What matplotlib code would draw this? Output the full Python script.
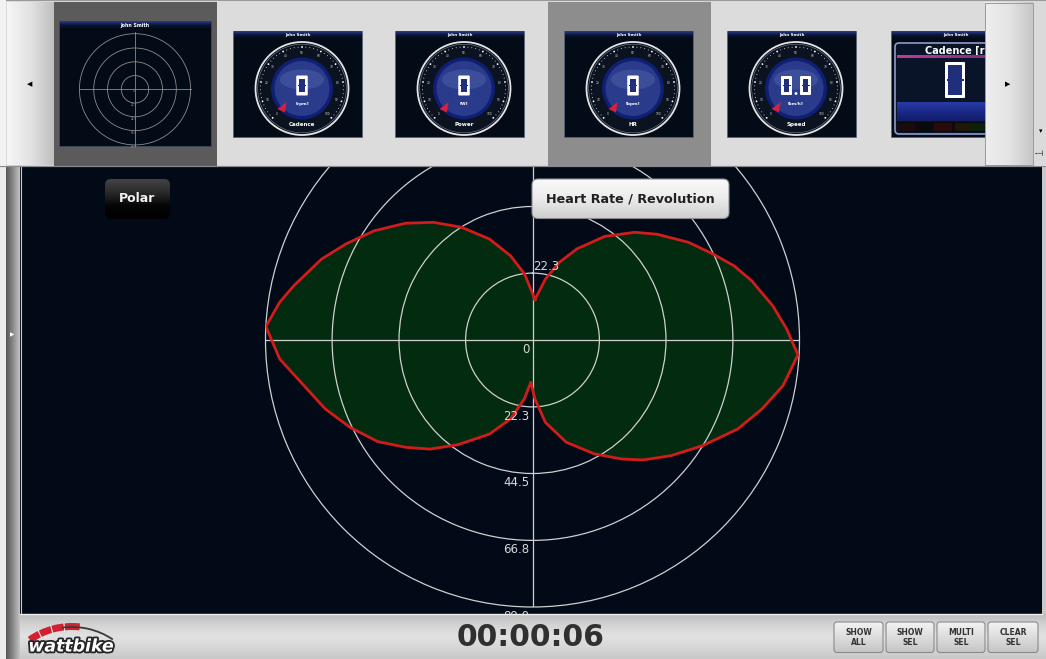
import numpy as np
import matplotlib
matplotlib.use("Agg")
import matplotlib.pyplot as plt
import matplotlib.colors as mcolors
import matplotlib.patheffects as pe
from matplotlib.patches import Rectangle, FancyBboxPatch, Circle, Polygon, Wedge, Arc, Ellipse

plt.rcParams['font.family'] = ['DejaVu Sans']

# ---------------- data ----------------
pedal_angle_deg = [3.5, 12.0, 19.1, 26.0, 34.9, 43.5, 49.7, 58.0, 64.6, 69.8, 74.9, 81.9, 87.5,
                   93.2, 100.3, 106.7, 113.4, 121.8, 129.8, 137.3, 143.0, 151.5, 161.7, 171.1,
                   177.6, 182.4,
                   187.8, 195.6, 204.6, 215.4, 223.2, 229.8, 236.7, 244.5, 251.6, 259.7, 265.7,
                   272.9, 278.5, 282.8, 291.0, 297.3, 304.6, 312.6, 320.0, 327.8, 336.9, 345.4,
                   353.1]
heart_rate_rev = [13.5, 20.8, 27.4, 33.8, 42.1, 49.5, 54.5, 61.4, 66.7, 71.6, 75.7, 80.9, 84.8,
                  88.6, 84.9, 79.9, 74.6, 66.8, 60.2, 54.4, 49.7, 43.2, 35.9, 27.8,
                  19.7, 14.1,
                  19.8, 27.3, 34.5, 42.8, 49.9, 55.4, 61.7, 67.5, 72.8, 78.5, 84.5,
                  89.0, 85.2, 81.6, 75.3, 69.9, 64.1, 57.5, 51.2, 44.4, 36.6, 29.0,
                  22.2]
radial_ticks = [0, 22.3, 44.5, 66.8, 89.0]
radial_max = 89.0

gauge_titles = ["Cadence", "Power", "HR", "Speed"]
gauge_units = ["[rpm]", "[W]", "[bpm]", "[km/h]"]
gauge_values = ["0", "0", "0", "0.0"]
gauge_scale = ["0", "10", "20", "30", "40", "50", "60", "70", "80", "90", "100"]
athlete = "John Smith"
chart_name = "Polar"
metric_name = "Heart Rate / Revolution"
timer_text = "00:00:06"
button_labels = ["SHOW\nALL", "SHOW\nSEL", "MULTI\nSEL", "CLEAR\nSEL"]
digital_title = "Cadence [rpm]"

# ---------------- figure ----------------
W, H = 1046, 659
fig = plt.figure(figsize=(W / 100, H / 100), dpi=100)
fig.patch.set_facecolor('#d8d8d8')


def pixel_axes(z):
    a = fig.add_axes([0, 0, 1, 1], zorder=z)
    a.set_xlim(0, W)
    a.set_ylim(H, 0)
    a.axis('off')
    a.patch.set_alpha(0)
    return a


bg = pixel_axes(0)
ov = pixel_axes(5)

_z = [10]


def nz():
    _z[0] += 1
    return _z[0]


def rect(ax, x0, y0, w, h, fc, ec='none', lw=0.0):
    p = Rectangle((x0, y0), w, h, fc=fc, ec=ec, lw=lw, zorder=nz())
    ax.add_patch(p)
    return p


def grad(ax, x0, y0, x1, y1, colors, horizontal=False, clip=None):
    cols = np.array([mcolors.to_rgb(c) for c in colors])
    n = 96
    t = np.linspace(0, 1, n)
    stops = np.linspace(0, 1, len(cols))
    arr = np.stack([np.interp(t, stops, cols[:, k]) for k in range(3)], axis=1)
    img = arr[None, :, :] if horizontal else arr[:, None, :]
    im = ax.imshow(img, extent=(x0, x1, y1, y0), origin='upper', aspect='auto',
                   interpolation='bilinear', zorder=nz())
    if clip is not None:
        im.set_clip_path(clip)
    return im


def rbox(ax, x0, y0, w, h, r, fc='none', ec='none', lw=0.0):
    p = FancyBboxPatch((x0, y0), w, h, boxstyle='round,pad=0,rounding_size=%g' % r,
                       fc=fc, ec=ec, lw=lw, zorder=nz())
    ax.add_patch(p)
    return p


def txt(ax, x, y, s, **kw):
    kw.setdefault('ha', 'center')
    kw.setdefault('va', 'center')
    return ax.text(x, y, s, zorder=nz(), **kw)


def circ(ax, cx, cy, r, fc='none', ec='none', lw=0.0):
    p = Circle((cx, cy), r, fc=fc, ec=ec, lw=lw, zorder=nz())
    ax.add_patch(p)
    return p


# ---------------- background layer ----------------
rect(bg, 20, 166, 1022, 448, '#020a18')
rect(bg, 0, 166, 6, 493, '#ececec')

# ---------------- polar chart ----------------
cx_px, cy_px, R_px = 532.5, 340.0, 267.0
pax = fig.add_axes([(cx_px - R_px) / W, (H - cy_px - R_px) / H, 2 * R_px / W, 2 * R_px / H],
                   projection='polar', zorder=1)
pax.set_facecolor('none')
pax.set_theta_zero_location('N')
pax.set_theta_direction(-1)
th = np.deg2rad(np.array(pedal_angle_deg + [pedal_angle_deg[0] + 360]))
rr = np.array(heart_rate_rev + [heart_rate_rev[0]])
pax.fill(th, rr, color='#032b10', lw=0, zorder=0.8)
pax.plot(th, rr, color='#d21c1c', lw=2.0, zorder=3, solid_joinstyle='round')
pax.set_ylim(0, radial_max)
pax.set_yticks(radial_ticks[1:-1])
pax.set_yticklabels([])
pax.set_xticks(np.deg2rad([0, 90, 180, 270]))
pax.set_xticklabels([])
pax.grid(True, color='#cfcfcf', lw=0.9)
pax.spines['polar'].set_color('#cfcfcf')
pax.spines['polar'].set_linewidth(0.9)
pax.tick_params(length=0)

for v in radial_ticks:
    lab = '%.1f' % v if v > 0 else '0'
    pax.annotate(lab, xy=(np.pi, v), xytext=(-3, -3), textcoords='offset pixels',
                 ha='right', va='top', color='#d8d8d8', fontsize=8.5, zorder=4)
# only the first upper ring label is visible (others are hidden by the header / title button)
pax.annotate('%.1f' % radial_ticks[1], xy=(0, radial_ticks[1]), xytext=(1, 3),
             textcoords='offset pixels', ha='left', va='baseline', color='#d8d8d8',
             fontsize=8.5, zorder=4)

# ---------------- overlay chrome ----------------
# left bar
grad(ov, 6, 166, 20, 659, ['#555555', '#8a8a8a', '#c4c4c4'], horizontal=True)
ov.plot([20.5, 20.5], [166, 614], color='#cfcfcf', lw=0.8, zorder=nz())
txt(ov, 12, 335, '\u25B6', color='white', fontsize=4)
# right edge
rect(ov, 1042, 166, 4, 493, '#c8c8c8')

# top strip
rect(ov, 0, 0, W, 166, '#dcdcdc', ec='#9a9a9a', lw=0.8)
rect(ov, 0, 0, 6, 166, '#f2f2f2')
grad(ov, 6.5, 2.5, 54, 165, ['#f6f6f6', '#e2e2e2', '#bdbdbd'], horizontal=True)
txt(ov, 30, 84, '\u25C0', color='black', fontsize=5)
rect(ov, 54, 2, 163, 164, '#5b5b5b')
rect(ov, 548, 2, 163, 164, '#8d8d8d')
ov.plot([0, W], [165.8, 165.8], color='#8a8a8a', lw=0.8, zorder=nz())


def thumb_frame(x0, y0, w, h):
    rect(ov, x0, y0, w, h, '#030b16', ec='#56657a', lw=0.6)
    grad(ov, x0 + 0.5, y0 + 0.5, x0 + w - 0.5, y0 + 8, ['#2c3e96', '#0a1534', '#030a16'])
    txt(ov, x0 + w / 2, y0 + 3.8, athlete, color='white', fontsize=3.0, fontweight='bold')


# polar thumbnail
tx0, ty0, tw, th_ = 59, 21, 152, 125
rect(ov, tx0, ty0, tw, th_, '#030b17', ec='#3a4a5c', lw=0.6)
grad(ov, tx0 + 0.5, ty0 + 0.5, tx0 + tw - 0.5, ty0 + 8, ['#2c3e96', '#0a1534', '#030a16'])
txt(ov, tx0 + tw / 2, ty0 + 4.3, athlete, color='white', fontsize=3.4, fontweight='bold')
tcx, tcy = 135, 89.3
for rad in [13.7, 27.5, 41.3, 55.6]:
    circ(ov, tcx, tcy, rad, ec='#8c8c8c', lw=0.6)
ov.plot([tcx - 55.6, tcx + 55.6], [tcy, tcy], color='#8c8c8c', lw=0.6, zorder=nz())
ov.plot([tcx, tcx], [31.5, 146], color='#8c8c8c', lw=0.6, zorder=nz())
for k, v in enumerate(radial_ticks):
    txt(ov, tcx - 1, tcy + 13.8 * k + 2, ('%.1f' % v) if v else '0', color='#9a9a9a', fontsize=2)

# gauge thumbnails
gauge_x = [233, 395, 564, 727]
gy0 = 31


def digit(cx, cy, wdt=11.5, hgt=20):
    rbox(ov, cx - wdt / 2, cy - hgt / 2, wdt, hgt, 1.0, fc='white')
    rect(ov, cx - wdt / 2 + 3.2, cy - hgt / 2 + 3.2, wdt - 6.4, hgt - 6.4, '#1f2f7c')
    rect(ov, cx - wdt / 2 + 1.5, cy - 0.6, wdt - 3, 1.2, '#1f2f7c')


for x0, ttl, unit, val in zip(gauge_x, gauge_titles, gauge_units, gauge_values):
    thumb_frame(x0, gy0, 129, 106)
    cx, cy = x0 + 69, gy0 + 57.5
    circ(ov, cx, cy, 46.5, fc='#0b1220', ec='#e4e4e4', lw=1.3)
    circ(ov, cx, cy, 44.3, ec='#7d8594', lw=0.4)
    for k in range(51):
        a = np.deg2rad(-135 + 270 * k / 50)
        px, py = cx + 41.5 * np.sin(a), cy - 41.5 * np.cos(a)
        circ(ov, px, py, 0.9 if k % 5 == 0 else 0.45, fc='white')
    for k, s in enumerate(gauge_scale):
        a = np.deg2rad(-135 + 27 * k)
        txt(ov, cx + 36 * np.sin(a), cy - 36 * np.cos(a), s, color='#d8d8d8', fontsize=2.1)
    circ(ov, cx, cy, 31, fc='#0e1f74')
    circ(ov, cx, cy, 27.5, fc='#2a3b8c')
    e = Ellipse((cx, cy - 9), 44, 20, fc='#6070b4', alpha=0.35, zorder=nz())
    ov.add_patch(e)
    if val == "0.0":
        digit(cx - 9.5, cy - 3, 11, 19)
        digit(cx + 9.5, cy - 3, 11, 19)
        circ(ov, cx, cy + 5, 1.4, fc='white')
    else:
        digit(cx, cy - 3)
    txt(ov, cx, cy + 15.5, unit, color='white', fontsize=3.0, fontweight='bold')
    txt(ov, cx, gy0 + 93.5, ttl, color='white', fontsize=4.0, fontweight='bold')
    tri = Polygon([(cx - 24.5, cy + 20.5), (cx - 15.5, cy + 13.5), (cx - 17, cy + 24)],
                  closed=True, fc='#d6203e', ec='none', zorder=nz())
    ov.add_patch(tri)

# digital cadence thumbnail (partially hidden)
dx0 = 891
thumb_frame(dx0, gy0, 129, 106)
rbox(ov, 895, 43, 115, 91, 4, fc='#0a1428', ec='#8f9ccb', lw=1.2)
t6 = txt(ov, 966, 50.5, digital_title, color='white', fontsize=7, fontweight='bold')
grad(ov, 896.5, 55.8, 1008, 58.2, ['#c4389c', '#7a2878'], horizontal=True)
digit(955, 80, 20, 36)
grad(ov, 896.5, 102, 1008, 121, ['#2a3ba6', '#1a2888', '#131c66'])
rect(ov, 896.5, 122, 112, 10, '#0a0a0c')
for bx, bc in [(896.5, '#1a0c0c'), (934, '#2a0a0a'), (955, '#1c1a06'), (972, '#0a2008')]:
    rect(ov, bx, 123, 18, 8, bc)

# right arrow button (covers digital thumb)
grad(ov, 985, 2.5, 1033, 165, ['#eeeeee', '#e4e4e4', '#c6c6c6'], horizontal=True)
rect(ov, 985, 2.5, 48, 162.5, 'none', ec='#9a9a9a', lw=0.7)
txt(ov, 1008, 84, '\u25B6', color='black', fontsize=5)
rect(ov, 1033.5, 2, 12.5, 164, '#dadada')
txt(ov, 1041, 131, '\u25BE', color='black', fontsize=5)
txt(ov, 1039, 154, '-\u22A3', color='black', fontsize=5.5)

# chart title buttons
pb = rbox(ov, 105, 179, 65, 40, 6)
grad(ov, 105, 179, 170, 219, ['#444444', '#2a2a2a', '#050505', '#000000'], clip=pb)
txt(ov, 137.5, 198.5, chart_name, color='#f2f2f2', fontsize=9, fontweight='bold')

hb = rbox(ov, 532, 179, 197, 39.5, 6)
grad(ov, 532, 179, 729, 218.5, ['#fbfbfb', '#ececec', '#cfcfcf'], clip=hb)
rbox(ov, 532, 179, 197, 39.5, 6, ec='#8e8e8e', lw=0.8)
txt(ov, 630.5, 198.5, metric_name, color='#202020', fontsize=9.2, fontweight='bold')

# bottom strip
grad(ov, 20, 614, W, 659, ['#bdbdbd', '#d4d4d4', '#e2e2e2', '#d6d6d6', '#c8c8c8'])
ov.plot([20, 1042], [614.3, 614.3], color='#eeeeee', lw=1.0, zorder=nz())
txt(ov, 531, 637.5, timer_text, color='#303030', fontsize=21.5, fontweight='bold')

btn_x = [834, 886, 937, 988]
btn_w = [49, 48, 48, 50]
for bx, bw, lab in zip(btn_x, btn_w, button_labels):
    bp = rbox(ov, bx, 622, bw, 30.5, 3)
    grad(ov, bx, 622, bx + bw, 652.5, ['#f4f4f4', '#dedede', '#c6c6c6'], clip=bp)
    rbox(ov, bx, 622, bw, 30.5, 3, ec='#8a8a8a', lw=0.8)
    txt(ov, bx + bw / 2, 637.3, lab, color='#333333', fontsize=5.5, fontweight='bold',
        linespacing=1.15)

# wattbike logo
w1 = Wedge((72, 700), 77, 235, 276, width=7, fc='#d3202e', ec='none', zorder=nz())
ov.add_patch(w1)
for a in [244, 254, 264]:
    ar = np.deg2rad(a)
    ov.plot([72 + 69.5 * np.cos(ar), 72 + 77.5 * np.cos(ar)],
            [700 + 69.5 * np.sin(ar), 700 + 77.5 * np.sin(ar)], color='#f0f0f0', lw=0.8, zorder=nz())
arc = Arc((72, 700), 146, 146, theta1=262, theta2=304, color='#3a3a3a', lw=1.3, zorder=nz())
ov.add_patch(arc)
txt(ov, 71, 646.5, 'wattbike', color='white', fontsize=12.5, fontweight='bold', fontstyle='italic',
    path_effects=[pe.withStroke(linewidth=2.6, foreground='#262626')])

ov.set_xlim(0, W)
ov.set_ylim(H, 0)
bg.set_xlim(0, W)
bg.set_ylim(H, 0)

fig.savefig('out.png', dpi=100, facecolor=fig.get_facecolor())
